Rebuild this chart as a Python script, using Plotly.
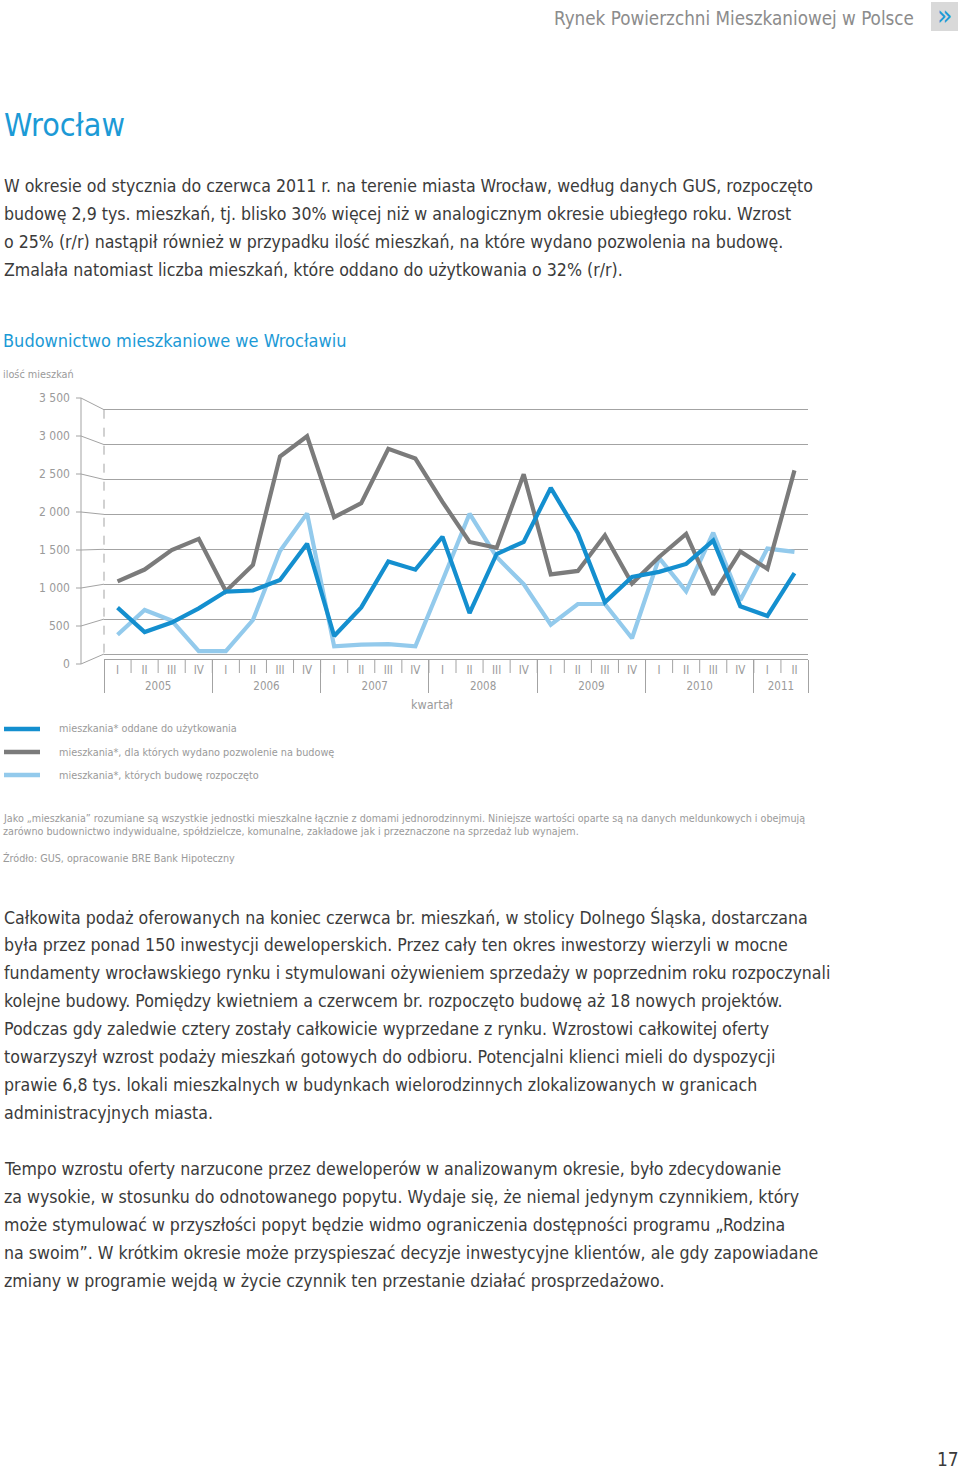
import plotly.graph_objects as go

W, H = 960, 1470

# ---- data ----
years = ['2005', '2005', '2005', '2005', '2006', '2006', '2006', '2006',
         '2007', '2007', '2007', '2007', '2008', '2008', '2008', '2008',
         '2009', '2009', '2009', '2009', '2010', '2010', '2010', '2010',
         '2011', '2011']
quarters = ['I', 'II', 'III', 'IV', 'I', 'II', 'III', 'IV',
            'I', 'II', 'III', 'IV', 'I', 'II', 'III', 'IV',
            'I', 'II', 'III', 'IV', 'I', 'II', 'III', 'IV',
            'I', 'II']

oddane = [664, 315, 450, 654, 895, 910, 1060, 1580, 258, 668, 1325, 1208,
          1680, 585, 1433, 1607, 2380, 1730, 740, 1105, 1177, 1290, 1625, 683,
          545, 1158]
pozwolenia = [1040, 1210, 1490, 1650, 900, 1275, 2830, 3120, 1960, 2160, 2940, 2800,
              2180, 1605, 1520, 2575, 1140, 1190, 1700, 1010, 1390, 1720, 850, 1470,
              1220, 2630]
rozpoczete = [275, 630, 480, 40, 40, 487, 1475, 2015, 110, 135, 140, 110,
              1050, 2010, 1390, 1000, 420, 716, 716, 226, 1378, 898, 1738, 770,
              1510, 1463]

y_ticks = [0, 500, 1000, 1500, 2000, 2500, 3000, 3500]
y_tick_labels = ['0', '500', '1 000', '1 500', '2 000', '2 500', '3 000', '3 500']

series_names = ['mieszkania* oddane do użytkowania',
                'mieszkania*, dla których wydano pozwolenie na budowę',
                'mieszkania*, których budowę rozpoczęto']

BLUE = '#148fcf'
GRAY = '#7b7b7b'
LIGHT = '#93caec'
GRID = '#a3a3a3'
AXTXT = '#9a9a9a'
BODY = '#3b3b3b'
TITLE = '#1c9ad6'
FONT = 'DejaVu Sans Condensed, DejaVu Sans, sans-serif'
BODY_SIZE = 17.6


def px(x):
    return x / W


def py(y):
    return 1 - y / H


# chart geometry (pixels)
X_LEFT, X_RIGHT = 104, 808
Y_ZERO, Y_TOP = 654, 409.7
PPU = (Y_ZERO - Y_TOP) / 3500.0
Y_AX_BOTTOM = 659
R_MIN = -(Y_AX_BOTTOM - Y_ZERO) / PPU
R_MAX = 3520
Y_DOM_TOP = Y_ZERO - R_MAX * PPU

fig = go.Figure()
for vals, col, name in [(rozpoczete, LIGHT, series_names[2]),
                        (pozwolenia, GRAY, series_names[1]),
                        (oddane, BLUE, series_names[0])]:
    fig.add_trace(go.Scatter(
        x=[years, quarters], y=vals, mode='lines', name=name,
        line=dict(color=col, width=4.2), showlegend=False,
    ))

shapes = []
annotations = []


# pseudo-3D left axis
def label_y(v):
    return 664 - v * 38 / 500.0


def grid_y(v):
    return Y_ZERO - v * PPU


line_style = dict(color=GRID, width=1)
shapes.append(dict(type='line', xref='paper', yref='paper',
                   x0=px(81), x1=px(81), y0=py(label_y(0)), y1=py(label_y(3500)),
                   line=line_style))
for v, lab in zip(y_ticks, y_tick_labels):
    shapes.append(dict(type='line', xref='paper', yref='paper',
                       x0=px(76), x1=px(81), y0=py(label_y(v)), y1=py(label_y(v)),
                       line=line_style))
    shapes.append(dict(type='line', xref='paper', yref='paper',
                       x0=px(81), x1=px(X_LEFT), y0=py(label_y(v)), y1=py(grid_y(v)),
                       line=line_style))
    annotations.append(dict(text=lab, x=px(72), y=py(label_y(v)), xref='paper', yref='paper',
                            xanchor='right', yanchor='middle', showarrow=False,
                            font=dict(family=FONT, size=12, color=AXTXT)))

# dashed back edge
shapes.append(dict(type='line', xref='paper', yref='paper',
                   x0=px(X_LEFT), x1=px(X_LEFT), y0=py(Y_TOP), y1=py(Y_ZERO),
                   line=dict(color=GRID, width=1, dash='dash')))

# quarter separators
step = (X_RIGHT - X_LEFT) / len(quarters)
for k in range(1, len(quarters)):
    xx = X_LEFT + k * step
    shapes.append(dict(type='line', xref='paper', yref='paper',
                       x0=px(xx), x1=px(xx), y0=py(Y_AX_BOTTOM), y1=py(673),
                       line=line_style))

# legend
for yy, col, name in [(729, BLUE, series_names[0]), (752, GRAY, series_names[1]),
                      (775, LIGHT, series_names[2])]:
    shapes.append(dict(type='line', xref='paper', yref='paper',
                       x0=px(4), x1=px(40), y0=py(yy), y1=py(yy),
                       line=dict(color=col, width=4.5)))
    annotations.append(dict(text=name, x=px(57), y=py(yy), xref='paper', yref='paper',
                            xanchor='left', yanchor='middle', showarrow=False,
                            font=dict(family=FONT, size=10.8, color=AXTXT)))

# header box
shapes.append(dict(type='rect', xref='paper', yref='paper', x0=px(931), x1=px(958),
                   y0=py(31), y1=py(2), fillcolor='#d9d9d9', line=dict(width=0)))


def note(text, x, y, size, color, anchor='left', family=FONT):
    annotations.append(dict(text=text, x=px(x), y=py(y), xref='paper', yref='paper',
                            xanchor=anchor, yanchor='middle', showarrow=False,
                            font=dict(family=family, size=size, color=color)))


note('Rynek Powierzchni Mieszkaniowej w Polsce', 916, 18, 18.7, '#8c8c8c', 'right')
note('»', 944.5, 15, 28, TITLE, 'center')
note('Wrocław', 2, 125, 32, TITLE)

para1 = ['W okresie od stycznia do czerwca 2011 r. na terenie miasta Wrocław, według danych GUS, rozpoczęto',
         'budowę 2,9 tys. mieszkań, tj. blisko 30% więcej niż w analogicznym okresie ubiegłego roku. Wzrost',
         'o 25% (r/r) nastąpił również w przypadku ilość mieszkań, na które wydano pozwolenia na budowę.',
         'Zmalała natomiast liczba mieszkań, które oddano do użytkowania o 32% (r/r).']
for i, t in enumerate(para1):
    note(t, 2, 186 + 28 * i, BODY_SIZE, BODY)

note('Budownictwo mieszkaniowe we Wrocławiu', 1, 341, 18, TITLE)
note('ilość mieszkań', 1, 375, 10.8, AXTXT)
note('kwartał', 432, 704, 12.5, AXTXT, 'center')

note('Jako „mieszkania” rozumiane są wszystkie jednostki mieszkalne łącznie z domami jednorodzinnymi. '
     'Niniejsze wartości oparte są na danych meldunkowych i obejmują', 1, 818, 10.7, AXTXT)
note('zarówno budownictwo indywidualne, spółdzielcze, komunalne, zakładowe jak i przeznaczone '
     'na sprzedaż lub wynajem.', 1, 831, 10.7, AXTXT)
note('Źródło: GUS, opracowanie BRE Bank Hipoteczny', 1, 858, 10.7, AXTXT)

para2 = ['Całkowita podaż oferowanych na koniec czerwca br. mieszkań, w stolicy Dolnego Śląska, dostarczana',
         'była przez ponad 150 inwestycji deweloperskich. Przez cały ten okres inwestorzy wierzyli w mocne',
         'fundamenty wrocławskiego rynku i stymulowani ożywieniem sprzedaży w poprzednim roku rozpoczynali',
         'kolejne budowy. Pomiędzy kwietniem a czerwcem br. rozpoczęto budowę aż 18 nowych projektów.',
         'Podczas gdy zaledwie cztery zostały całkowicie wyprzedane z rynku. Wzrostowi całkowitej oferty',
         'towarzyszył wzrost podaży mieszkań gotowych do odbioru. Potencjalni klienci mieli do dyspozycji',
         'prawie 6,8 tys. lokali mieszkalnych w budynkach wielorodzinnych zlokalizowanych w granicach',
         'administracyjnych miasta.']
for i, t in enumerate(para2):
    note(t, 2, 917 + 28 * i, BODY_SIZE, BODY)

para3 = ['Tempo wzrostu oferty narzucone przez deweloperów w analizowanym okresie, było zdecydowanie',
         'za wysokie, w stosunku do odnotowanego popytu. Wydaje się, że niemal jedynym czynnikiem, który',
         'może stymulować w przyszłości popyt będzie widmo ograniczenia dostępności programu „Rodzina',
         'na swoim”. W krótkim okresie może przyspieszać decyzje inwestycyjne klientów, ale gdy zapowiadane',
         'zmiany w programie wejdą w życie czynnik ten przestanie działać prosprzedażowo.']
for i, t in enumerate(para3):
    note(t, 2, 1169 + 28 * i, BODY_SIZE, BODY)

note('17', 948, 1459, 19, BODY, 'center')

fig.update_layout(
    width=W, height=H,
    margin=dict(l=0, r=0, t=0, b=0),
    paper_bgcolor='white', plot_bgcolor='white',
    showlegend=False,
    shapes=shapes, annotations=annotations,
    xaxis=dict(
        type='multicategory', domain=[px(X_LEFT), px(X_RIGHT)],
        range=[-0.5, len(quarters) - 0.5],
        showgrid=False, zeroline=False,
        showline=True, linecolor=GRID, linewidth=1,
        ticks='', showdividers=True, dividercolor=GRID, dividerwidth=1,
        tickfont=dict(family=FONT, size=11.5, color=AXTXT),
    ),
    yaxis=dict(
        domain=[py(Y_AX_BOTTOM), py(Y_DOM_TOP)],
        range=[R_MIN, R_MAX],
        tickvals=y_ticks, showticklabels=False,
        showgrid=True, gridcolor=GRID, gridwidth=1,
        zeroline=False, showline=False, ticks='',
    ),
)

fig.write_html('out.html', config={'displayModeBar': False},
               post_script="document.body.style.margin='0px';")
